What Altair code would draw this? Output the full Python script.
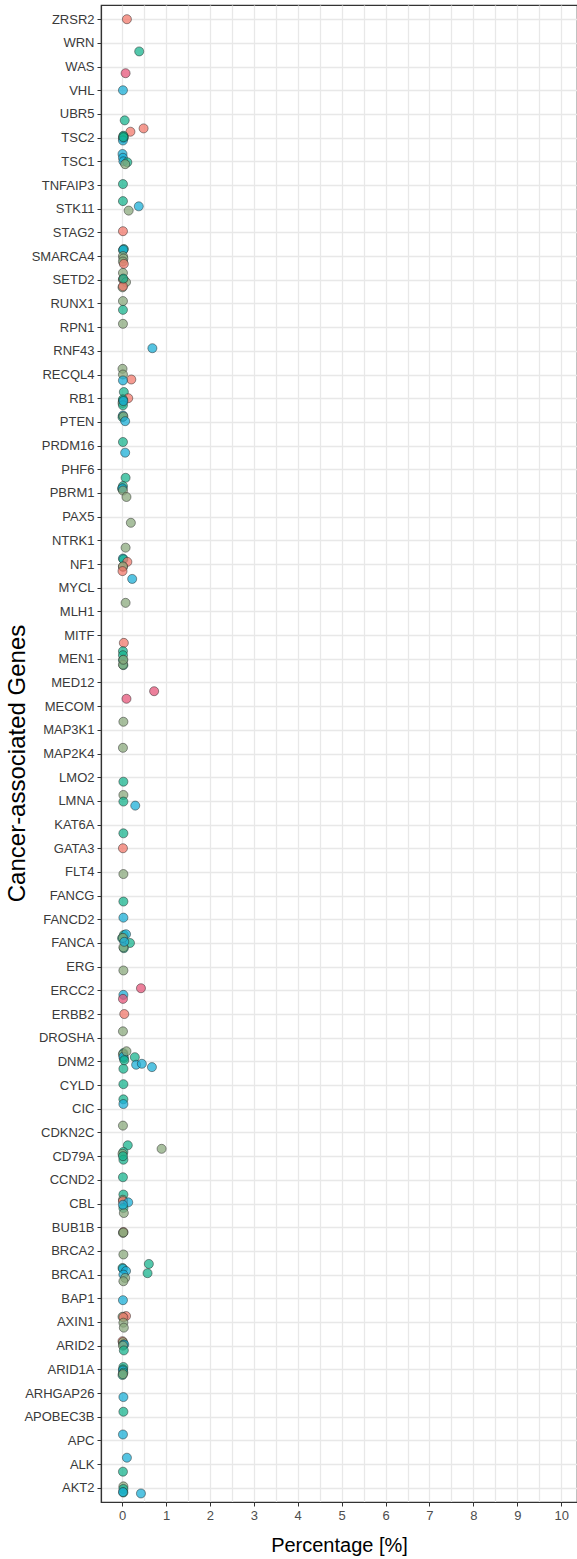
import altair as alt
import pandas as pd

genes = ["ZRSR2", "WRN", "WAS", "VHL", "UBR5", "TSC2", "TSC1", "TNFAIP3", "STK11", "STAG2",
         "SMARCA4", "SETD2", "RUNX1", "RPN1", "RNF43", "RECQL4", "RB1", "PTEN", "PRDM16", "PHF6",
         "PBRM1", "PAX5", "NTRK1", "NF1", "MYCL", "MLH1", "MITF", "MEN1", "MED12", "MECOM",
         "MAP3K1", "MAP2K4", "LMO2", "LMNA", "KAT6A", "GATA3", "FLT4", "FANCG", "FANCD2", "FANCA",
         "ERG", "ERCC2", "ERBB2", "DROSHA", "DNM2", "CYLD", "CIC", "CDKN2C", "CD79A", "CCND2",
         "CBL", "BUB1B", "BRCA2", "BRCA1", "BAP1", "AXIN1", "ARID2", "ARID1A", "ARHGAP26", "APOBEC3B",
         "APC", "ALK", "AKT2"]

# percentage of each point, per gene
pct = {
    "ZRSR2": [0.11], "WRN": [0.39], "WAS": [0.08], "VHL": [0.02], "UBR5": [0.06],
    "TSC2": [0.19, 0.49, 0.03, 0.02, 0.04, 0.03, 0.02, 0.03],
    "TSC1": [0.01, 0.02, 0.03, 0.12, 0.07],
    "TNFAIP3": [0.02],
    "STK11": [0.02, 0.38, 0.15],
    "STAG2": [0.02],
    "SMARCA4": [0.04, 0.02, 0.03, 0.02, 0.03, 0.02, 0.04],
    "SETD2": [0.02, 0.02, 0.03, 0.09, 0.01, 0.02, 0.03],
    "RUNX1": [0.02, 0.02],
    "RPN1": [0.02],
    "RNF43": [0.69],
    "RECQL4": [0.01, 0.02, 0.21, 0.02],
    "RB1": [0.04, 0.14, 0.02, 0.01, 0.02, 0.02, 0.03],
    "PTEN": [0.02, 0.01, 0.03, 0.07],
    "PRDM16": [0.02, 0.07],
    "PHF6": [0.08],
    "PBRM1": [0.02, 0.00, 0.01, 0.02, 0.10],
    "PAX5": [0.20],
    "NTRK1": [0.08],
    "NF1": [0.02, 0.03, 0.12, 0.02, 0.02, 0.01],
    "MYCL": [0.23],
    "MLH1": [0.08],
    "MITF": [0.04],
    "MEN1": [0.02, 0.02, 0.02, 0.03, 0.02, 0.03],
    "MED12": [0.73],
    "MECOM": [0.10],
    "MAP3K1": [0.03],
    "MAP2K4": [0.02],
    "LMO2": [0.03],
    "LMNA": [0.03, 0.03, 0.30],
    "KAT6A": [0.03],
    "GATA3": [0.02],
    "FLT4": [0.03],
    "FANCG": [0.03],
    "FANCD2": [0.03],
    "FANCA": [0.04, 0.09, 0.00, 0.02, 0.18, 0.04, 0.03, 0.05],
    "ERG": [0.03],
    "ERCC2": [0.43, 0.03, 0.02],
    "ERBB2": [0.05],
    "DROSHA": [0.02],
    "DNM2": [0.03, 0.02, 0.04, 0.03, 0.10, 0.29, 0.32, 0.45, 0.68, 0.03, 0.05],
    "CYLD": [0.03],
    "CIC": [0.03, 0.03],
    "CDKN2C": [0.02],
    "CD79A": [0.13, 0.90, 0.03, 0.01, 0.03, 0.02],
    "CCND2": [0.02],
    "CBL": [0.03, 0.02, 0.02, 0.14, 0.03, 0.04, 0.02],
    "BUB1B": [0.03, 0.02, 0.03],
    "BRCA2": [0.03],
    "BRCA1": [0.61, 0.58, 0.01, 0.02, 0.09, 0.03, 0.07, 0.03],
    "BAP1": [0.02],
    "AXIN1": [0.09, 0.01, 0.03, 0.03, 0.04],
    "ARID2": [0.01, 0.02, 0.03, 0.05, 0.02, 0.04],
    "ARID1A": [0.03, 0.02, 0.02, 0.03, 0.01, 0.02],
    "ARHGAP26": [0.03],
    "APOBEC3B": [0.03],
    "APC": [0.02],
    "ALK": [0.11, 0.02],
    "AKT2": [0.03, 0.03, 0.03, 0.02, 0.43],
}

# vertical jitter of each point (in gene rows, + is up)
jit = {
    "ZRSR2": [0.0], "WRN": [-0.36], "WAS": [-0.28], "VHL": [0.0], "UBR5": [-0.27],
    "TSC2": [0.25, 0.39, 0.05, -0.03, 0.0, 0.08, -0.12, 0.02],
    "TSC1": [0.31, 0.15, 0.0, -0.04, -0.12],
    "TNFAIP3": [0.04],
    "STK11": [0.32, 0.10, -0.08],
    "STAG2": [0.05],
    "SMARCA4": [0.30, 0.25, 0.27, 0.0, -0.10, -0.23, -0.33],
    "SETD2": [0.29, 0.02, 0.0, -0.10, -0.32, -0.28, 0.05],
    "RUNX1": [0.10, -0.27],
    "RPN1": [0.14],
    "RNF43": [0.11],
    "RECQL4": [0.24, 0.0, -0.21, -0.25],
    "RB1": [0.26, 0.0, -0.10, -0.20, -0.05, -0.30, -0.12],
    "PTEN": [0.27, 0.20, 0.23, 0.03],
    "PRDM16": [0.15, -0.30],
    "PHF6": [-0.36],
    "PBRM1": [0.29, 0.18, 0.20, 0.10, -0.17],
    "PAX5": [-0.26],
    "NTRK1": [-0.31],
    "NF1": [0.23, 0.20, 0.09, -0.12, -0.10, -0.30],
    "MYCL": [0.37],
    "MLH1": [0.36],
    "MITF": [-0.33],
    "MEN1": [0.32, 0.15, -0.06, -0.27, -0.25, -0.04],
    "MED12": [-0.37],
    "MECOM": [0.31],
    "MAP3K1": [0.34],
    "MAP2K4": [0.24],
    "LMO2": [-0.19],
    "LMNA": [0.25, -0.03, -0.20],
    "KAT6A": [-0.37],
    "GATA3": [0.0],
    "FLT4": [-0.09],
    "FANCG": [-0.25],
    "FANCD2": [0.07],
    "FANCA": [0.34, 0.37, 0.20, 0.22, 0.0, -0.22, -0.18, 0.05],
    "ERG": [-0.16],
    "ERCC2": [0.09, -0.19, -0.36],
    "ERBB2": [0.0],
    "DROSHA": [0.27],
    "DNM2": [0.35, 0.30, 0.14, 0.20, 0.43, 0.18, -0.14, -0.10, -0.24, -0.31, 0.05],
    "CYLD": [0.04],
    "CIC": [0.40, 0.20],
    "CDKN2C": [0.29],
    "CD79A": [0.46, 0.31, 0.18, 0.10, -0.15, 0.0],
    "CCND2": [0.11],
    "CBL": [0.38, 0.16, 0.10, 0.05, -0.19, -0.40, -0.05],
    "BUB1B": [-0.20, -0.24, -0.22],
    "BRCA2": [-0.15],
    "BRCA1": [0.45, 0.06, 0.28, 0.25, 0.15, 0.0, -0.14, -0.28],
    "BAP1": [-0.08],
    "AXIN1": [0.25, 0.22, 0.20, -0.03, -0.24],
    "ARID2": [0.19, 0.15, 0.05, 0.05, 0.0, -0.20],
    "ARID1A": [0.10, 0.0, -0.05, -0.14, -0.24, -0.20],
    "ARHGAP26": [-0.17],
    "APOBEC3B": [0.21],
    "APC": [0.25],
    "ALK": [0.27, -0.32],
    "AKT2": [0.06, -0.05, -0.20, -0.18, -0.24],
}

# group of each point: S salmon, P pink, T teal, C cyan, G grey-green
grp = {
    "ZRSR2": "S", "WRN": "T", "WAS": "P", "VHL": "C", "UBR5": "T",
    "TSC2": "SSTGTTCT", "TSC1": "CCCTG", "TNFAIP3": "T", "STK11": "TCG", "STAG2": "S",
    "SMARCA4": "TTCGGGS", "SETD2": "GGSGGST", "RUNX1": "GT", "RPN1": "G", "RNF43": "C",
    "RECQL4": "GGSC", "RB1": "TSTGTTC", "PTEN": "CTGC", "PRDM16": "TC", "PHF6": "T",
    "PBRM1": "TTCGG", "PAX5": "G", "NTRK1": "G", "NF1": "CTSSGS", "MYCL": "C",
    "MLH1": "G", "MITF": "S", "MEN1": "TTTTGG", "MED12": "P", "MECOM": "P",
    "MAP3K1": "G", "MAP2K4": "G", "LMO2": "T", "LMNA": "GTC", "KAT6A": "T",
    "GATA3": "S", "FLT4": "G", "FANCG": "T", "FANCD2": "C", "FANCA": "TCTGTTGC",
    "ERG": "G", "ERCC2": "PCP", "ERBB2": "S", "DROSHA": "G", "DNM2": "TGTCGTCCCTT",
    "CYLD": "T", "CIC": "TC", "CDKN2C": "G", "CD79A": "TGTGTT", "CCND2": "T",
    "CBL": "TGSCTGC", "BUB1B": "SGG", "BRCA2": "G", "BRCA1": "TTTCCCGG", "BAP1": "C",
    "AXIN1": "SGSGG", "ARID2": "SGTCGT", "ARID1A": "TTCTTG", "ARHGAP26": "C",
    "APOBEC3B": "T", "APC": "C", "ALK": "CT", "AKT2": "GTTCC",
}

group_names = ["S", "P", "T", "C", "G"]
group_colors = ["#F2786A", "#E65478", "#17B48E", "#1AAED6", "#89A87C"]

rows = []
n = len(genes)
for i, g in enumerate(genes):
    for v, j, c in zip(pct[g], jit[g], grp[g]):
        rows.append({"gene": g, "pct": v, "ypos": (n - 1 - i) + j, "grp": c})
df = pd.DataFrame(rows)

rev = list(reversed(genes))
label_expr = "[" + ",".join("'" + g + "'" for g in rev) + "][datum.value]"

x_vals = [k * 0.5 for k in range(0, 21)]

chart = alt.Chart(df).mark_circle(
    size=82, stroke="#222222", strokeWidth=0.8, strokeOpacity=0.6,
    fillOpacity=0.74, opacity=1
).encode(
    x=alt.X("pct:Q",
            scale=alt.Scale(domain=[-0.48, 10.36], nice=False, zero=False),
            axis=alt.Axis(values=x_vals, title="Percentage [%]",
                          labelExpr="datum.value % 1 == 0 ? format(datum.value, 'd') : ''",
                          tickColor={"condition": {"test": "datum.value % 1 != 0", "value": "transparent"},
                                     "value": "#333333"},
                          tickSize=4, labelPadding=3, labelFontSize=13, labelColor="#4D4D4D",
                          labelFont="Liberation Sans",
                          titleFont="Liberation Sans", titleFontSize=20, titleFontWeight="normal",
                          titleColor="#000000", titleY=43, titleBaseline="middle",
                          grid=True, gridColor="#E8E8E8", gridWidth=1.3,
                          domainColor="#333333", domainWidth=1.2)),
    y=alt.Y("ypos:Q",
            scale=alt.Scale(domain=[-0.6, n - 1 + 0.6], nice=False, zero=False),
            axis=alt.Axis(values=list(range(n)), labelExpr=label_expr,
                          title="Cancer-associated Genes",
                          tickSize=4, tickColor="#333333", labelPadding=3,
                          labelFontSize=13, labelColor="#3A3A3A",
                          labelFont="Liberation Sans",
                          titleFont="Liberation Sans", titleFontSize=24, titleFontWeight="normal",
                          titleColor="#000000", titleX=-84, titleY=758,
                          titleAngle=270, titleAlign="center", titleBaseline="middle",
                          grid=True, gridColor="#E8E8E8", gridWidth=1.3,
                          domainColor="#333333", domainWidth=1.2)),
    color=alt.Color("grp:N", scale=alt.Scale(domain=group_names, range=group_colors), legend=None),
).properties(
    width=476, height=1497,
    padding={"left": 101, "top": 5, "right": 0, "bottom": 57},
    autosize=alt.AutoSizeParams(type="none"),
).configure_view(stroke="#333333", strokeWidth=1.2)

chart.save("out.html", embed_options={"renderer": "svg", "actions": False})
